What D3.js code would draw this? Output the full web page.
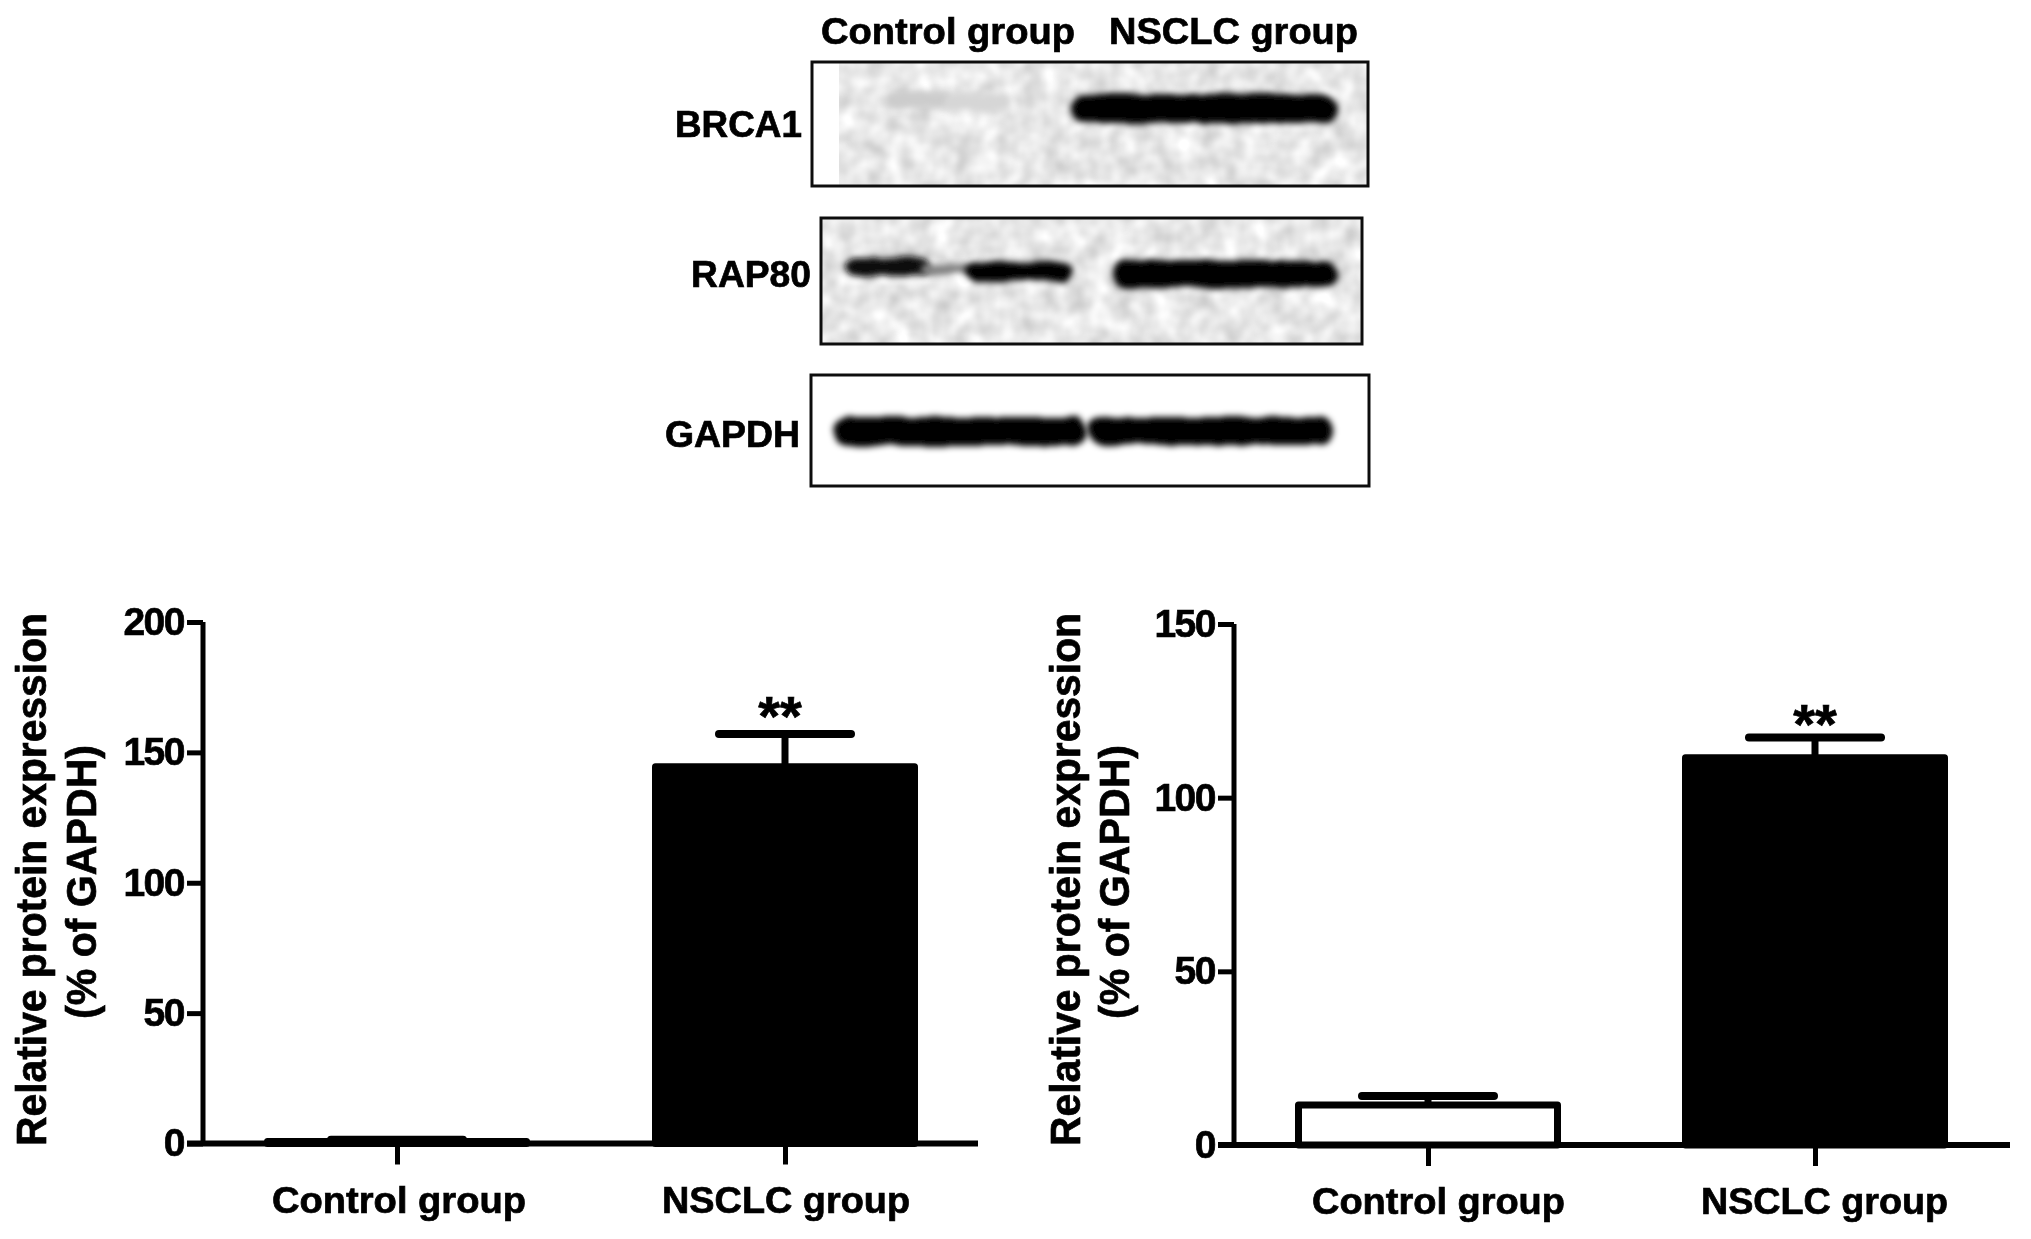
<!DOCTYPE html>
<html><head><meta charset="utf-8">
<script src="https://cdn.jsdelivr.net/npm/d3@7/dist/d3.min.js"></script>
<style>html,body{margin:0;padding:0;background:#fff}svg{display:block}text{font-family:"Liberation Sans",Arial,sans-serif;font-weight:700;fill:#000;stroke:#000;stroke-width:.7px}</style>
</head><body><div id="c"></div>
<script>
// DATA
const categories = ["Control group", "NSCLC group"];
const brcaValues = [0.8, 144.5];
const brcaErrors = [0.6, 12.5];
const brcaTicks = [0, 50, 100, 150, 200];
const rapValues = [11.5, 111.5];
const rapErrors = [2.6, 5.8];
const rapTicks = [0, 50, 100, 150];
const blotProteins = ["BRCA1", "RAP80", "GAPDH"];
const bandIntensityControl = [[0.2, 0.16], [0.95, 0.5, 1], [1]];
const bandIntensityNSCLC = [[1], [1], [1]];

const W = 2031, H = 1239;
const svg = d3.select("#c").append("svg").attr("width", W).attr("height", H);
const defs = svg.append("defs");
defs.append("filter").attr("id", "soft")
  .attr("filterUnits", "userSpaceOnUse").attr("x", 0).attr("y", 0).attr("width", W).attr("height", H)
  .append("feGaussianBlur").attr("stdDeviation", 0.7);
const rough = defs.append("filter").attr("id", "band").attr("x", "-15%").attr("y", "-80%").attr("width", "130%").attr("height", "260%");
rough.append("feTurbulence").attr("type", "fractalNoise").attr("baseFrequency", 0.04).attr("numOctaves", 2).attr("seed", 4).attr("result", "n");
rough.append("feDisplacementMap").attr("in", "SourceGraphic").attr("in2", "n").attr("scale", 6).attr("xChannelSelector", "R").attr("yChannelSelector", "G").attr("result", "d");
rough.append("feGaussianBlur").attr("in", "d").attr("stdDeviation", 3);
const mott = defs.append("filter").attr("id", "mottle").attr("x", 0).attr("y", 0).attr("width", 1).attr("height", 1);
mott.append("feTurbulence").attr("type", "fractalNoise").attr("baseFrequency", 0.045).attr("numOctaves", 2).attr("seed", 9);
mott.append("feColorMatrix").attr("type", "matrix").attr("values", "0 0 0 0 0  0 0 0 0 0  0 0 0 0 0  0.3 0 0 0 -0.06");

const root = svg.append("g").attr("filter", "url(#soft)");
root.append("rect").attr("width", W).attr("height", H).attr("fill", "#fff");

// ---------- blots ----------
const blotBoxes = [
  {x0: 812, x1: 1368, y0: 62, y1: 186, nx: 839, lx: 802, ly: 137, tl: 127},
  {x0: 821, x1: 1362, y0: 218, y1: 344, nx: 822, lx: 811, ly: 287, tl: 120},
  {x0: 811, x1: 1369, y0: 375, y1: 486, nx: null, lx: 800, ly: 447, tl: 135}
];
const bandBoxes = [
  {c: [[886, 950, 91, 108], [945, 1012, 94, 112]], n: [[1072, 1338, 94, 123]]},
  {c: [[846, 930, 258, 276], [920, 980, 264, 274], [965, 1072, 262, 281]], n: [[1113, 1338, 260, 288]]},
  {c: [[833, 1086, 417, 446]], n: [[1087, 1334, 417, 445]]}
];
const shade = d3.scaleLinear().domain([0, 1]).range(["#ffffff", "#000000"]);
blotProteins.forEach((name, i) => {
  const b = blotBoxes[i], g = root.append("g");
  if (b.nx !== null) g.append("rect").attr("x", b.nx).attr("y", b.y0).attr("width", b.x1 - b.nx).attr("height", b.y1 - b.y0).attr("filter", "url(#mottle)");
  const put = (boxes, vals) => boxes.forEach((r, k) => g.append("rect")
    .attr("x", r[0]).attr("y", r[2]).attr("width", r[1] - r[0]).attr("height", r[3] - r[2])
    .attr("rx", (r[3] - r[2]) / 2).attr("fill", shade(vals[k])).attr("filter", "url(#band)"));
  put(bandBoxes[i].c, bandIntensityControl[i]);
  put(bandBoxes[i].n, bandIntensityNSCLC[i]);
  g.append("rect").attr("x", b.x0).attr("y", b.y0).attr("width", b.x1 - b.x0).attr("height", b.y1 - b.y0)
    .attr("fill", "none").attr("stroke", "#111").attr("stroke-width", 3);
  g.append("text").attr("x", b.lx - b.tl).attr("y", b.ly).attr("font-size", 37)
    .attr("textLength", b.tl).attr("lengthAdjust", "spacingAndGlyphs").text(name);
});
root.append("text").attr("x", 821).attr("y", 44).attr("font-size", 37).attr("textLength", 254).attr("lengthAdjust", "spacingAndGlyphs").text(categories[0]);
root.append("text").attr("x", 1109).attr("y", 44).attr("font-size", 37).attr("textLength", 249).attr("lengthAdjust", "spacingAndGlyphs").text(categories[1]);

// ---------- bar panels ----------
function panel(o) {
  const g = root.append("g");
  const y = d3.scaleLinear().domain([0, o.ticks[o.ticks.length - 1]]).range([o.y0, o.yTop]);
  const x = d3.scalePoint().domain(categories).range(o.xr);
  const halfBar = 129.5, halfCap = 66;
  categories.forEach((c, i) => {
    const cx = x(c), top = y(o.vals[i]), capY = y(o.vals[i] + o.errs[i]);
    g.append("line").attr("x1", cx).attr("x2", cx).attr("y1", top).attr("y2", capY).attr("stroke", "#000").attr("stroke-width", 7);
    g.append("line").attr("x1", cx - halfCap).attr("x2", cx + halfCap).attr("y1", capY).attr("y2", capY)
      .attr("stroke", "#000").attr("stroke-width", 8).attr("stroke-linecap", "round");
    g.append("rect").attr("x", cx - halfBar).attr("width", halfBar * 2).attr("y", top).attr("height", Math.max(0, o.y0 - top))
      .attr("fill", i === 0 ? "#fff" : "#000").attr("stroke", "#000").attr("stroke-width", 7).attr("stroke-linejoin", "round");
  });
  const ya = g.append("g").attr("transform", `translate(${o.xAxis},0)`)
    .call(d3.axisLeft(y).tickValues(o.ticks).tickSize(16).tickPadding(3).tickFormat(d3.format("d")));
  ya.select(".domain").attr("stroke", "#000").attr("stroke-width", 5).attr("d", `M0,${o.yTop}V${o.y0}`);
  ya.selectAll(".tick line").attr("stroke", "#000").attr("stroke-width", 5);
  ya.selectAll("text").attr("font-size", 39).attr("fill", "#000").attr("font-family", null).style("letter-spacing", "-1.5px");
  const xa = g.append("g").attr("transform", `translate(0,${o.y0})`)
    .call(d3.axisBottom(x).tickSize(21).tickPadding(0).tickFormat(""));
  xa.select(".domain").attr("stroke", "#000").attr("stroke-width", 6).attr("d", `M${o.xAxis - 16},0H${o.xEnd}`);
  xa.selectAll(".tick line").attr("stroke", "#000").attr("stroke-width", 5);
  categories.forEach((c, i) => g.append("text").attr("x", o.labels[i][0]).attr("y", o.y0 + 69).attr("font-size", 37)
    .attr("textLength", o.labels[i][1]).attr("lengthAdjust", "spacingAndGlyphs").text(c));
  g.append("text").attr("x", o.starX).attr("y", o.starY).attr("text-anchor", "middle").attr("font-size", 56).text("**");
  const title = (s, bx, a, b) => g.append("text").attr("transform", `translate(${bx},${b}) rotate(-90)`)
    .attr("font-size", 43).attr("textLength", b - a).attr("lengthAdjust", "spacingAndGlyphs").text(s);
  title("Relative protein expression", o.titleX[0], 613, 1146);
  title("(% of GAPDH)", o.titleX[1], 745, 1019);
}
panel({vals: brcaValues, errs: brcaErrors, ticks: brcaTicks, y0: 1143.5, yTop: 622, xr: [397, 785], xAxis: 203, xEnd: 978,
  labels: [[272, 254], [662, 248]], starX: 780, starY: 735, titleX: [46, 96]});
panel({vals: rapValues, errs: rapErrors, ticks: rapTicks, y0: 1145, yTop: 624, xr: [1428, 1815], xAxis: 1234, xEnd: 2010,
  labels: [[1312, 253], [1701, 247]], starX: 1815, starY: 743, titleX: [1080, 1129]});
</script></body></html>
